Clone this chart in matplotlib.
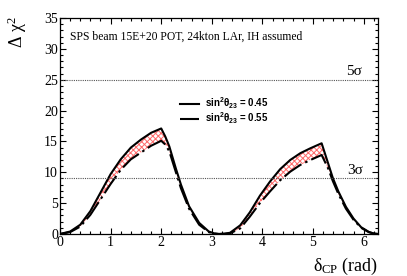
import numpy as np
import matplotlib
matplotlib.use('Agg')
import matplotlib.pyplot as plt
from matplotlib.ticker import MultipleLocator

######################################## DATOS ########################################
# delta_CP (rad)
dcp = [0.0, 0.2, 0.4, 0.6, 0.8, 1.0, 1.2, 1.4, 1.6, 1.8, 2.0,
       2.08, 2.16, 2.29, 2.39, 2.55, 2.75, 2.94, 3.05, 3.1416, 3.25,
       3.36, 3.56, 3.75, 3.95, 4.15, 4.35, 4.55, 4.75, 4.95, 5.17,
       5.3, 5.39, 5.5, 5.65, 5.8, 5.95, 6.1, 6.2, 6.2832]

# Delta chi^2 para sin^2(theta23) = 0.45 (continua)
chi2_045 = [0.0, 0.4, 1.5, 3.7, 6.7, 9.7, 12.1, 14.0, 15.3, 16.4, 17.1,
            15.8, 14.2, 10.6, 8.0, 4.5, 1.8, 0.4, 0.1, 0.0, 0.05,
            0.2, 1.4, 3.5, 6.2, 8.5, 10.5, 12.0, 13.1, 13.9, 14.7,
            11.4, 9.1, 6.9, 4.4, 2.5, 1.1, 0.35, 0.08, 0.0]

# Delta chi^2 para sin^2(theta23) = 0.55 (discontinua)
chi2_055 = [0.0, 0.3, 1.2, 3.1, 5.6, 8.1, 10.4, 12.1, 13.2, 14.3, 15.1,
            14.5, 13.4, 10.0, 7.4, 4.1, 1.5, 0.3, 0.05, 0.0, 0.03,
            0.1, 0.9, 2.8, 5.0, 6.9, 8.7, 10.1, 11.2, 12.0, 12.8,
            10.6, 8.6, 6.5, 4.1, 2.3, 1.0, 0.3, 0.06, 0.0]

labels = [r'$\mathsf{sin^2\theta_{23}}$ = 0.45', r'$\mathsf{sin^2\theta_{23}}$ = 0.55']
titulo = 'SPS beam 15E+20 POT, 24kton LAr, IH assumed'

######################################## GRÁFICA ########################################
plt.rcParams['font.family'] = ['Liberation Serif', 'DejaVu Serif']
plt.rcParams['mathtext.fontset'] = 'custom'
plt.rcParams['mathtext.rm'] = 'Liberation Serif'
plt.rcParams['mathtext.it'] = 'Liberation Serif'
plt.rcParams['mathtext.sf'] = 'Liberation Sans:bold'
plt.rcParams['hatch.linewidth'] = 0.7

fig = plt.figure(figsize=(4.07, 2.76), dpi=100)
ax = fig.add_axes([0.1474, 0.1522, 0.7813, 0.7826])

x = np.array(dcp)
y1 = np.array(chi2_045)
y2 = np.array(chi2_055)

# Banda rayada entre ambas curvas
ax.fill_between(x, y2, y1, facecolor='none', edgecolor='#ff6a6a', hatch='xxxxxx', linewidth=0)

l1, = ax.plot(x, y1, '-', color='black', lw=1.5)
l2, = ax.plot(x, y2, color='black', lw=1.5, dashes=(10, 2, 1.2, 2))

# Lineas 3 sigma y 5 sigma
ax.axhline(25, color='#555555', lw=0.8, ls=(0, (1, 1)))
ax.axhline(9, color='#555555', lw=0.8, ls=(0, (1, 1)))
ax.text(5.97, 25.2, '5σ', ha='right', va='bottom', fontsize=11)
ax.text(5.99, 9.2, '3σ', ha='right', va='bottom', fontsize=11)

ax.text(0.2, 32.0, titulo, fontsize=8.4, va='center', ha='left')

leg = ax.legend([l1, l2], labels, loc='center left', bbox_to_anchor=(0.377, 0.57),
                frameon=False, handlelength=2.0, handletextpad=0.6, borderpad=0,
                borderaxespad=0, labelspacing=0.0,
                prop={'family': 'Liberation Sans', 'weight': 'bold', 'size': 7})

ax.set_xlim(0, 2*np.pi)
ax.set_ylim(0, 35)
ax.xaxis.set_major_locator(MultipleLocator(1))
ax.xaxis.set_minor_locator(MultipleLocator(0.2))
ax.yaxis.set_major_locator(MultipleLocator(5))
ax.yaxis.set_minor_locator(MultipleLocator(1))
ax.tick_params(which='both', direction='in', top=True, right=True, labelsize=10, pad=1.5)
ax.tick_params(which='major', length=4.5, width=0.8)
ax.tick_params(which='minor', length=2.3, width=0.8)
for s in ax.spines.values():
    s.set_linewidth(0.9)

fig.text(17/407, 1 - 32/276, r'$\Delta\ \chi^2$', rotation=90, ha='center', va='center', fontsize=13)
ax.set_xlabel(r'$\delta_{CP}$ (rad)', fontsize=13, labelpad=0)
ax.xaxis.set_label_coords(1.0, -0.1)
ax.xaxis.label.set_ha('right')

fig.savefig('out.png', dpi=100)
